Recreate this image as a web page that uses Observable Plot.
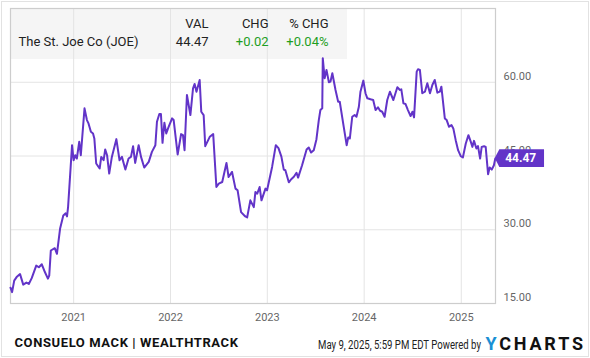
<!DOCTYPE html>
<html>
<head>
<meta charset="utf-8">
<script src="https://cdn.jsdelivr.net/npm/d3@7"></script>
<script src="https://cdn.jsdelivr.net/npm/@observablehq/plot@0.6"></script>
<style>
html, body { margin: 0; padding: 0; background: #fff; }
#wrap { position: relative; width: 590px; height: 358px; overflow: hidden; font-family: Roboto, sans-serif; }
#border { position: absolute; left: 1px; top: 1px; width: 586px; height: 354px; border: 1px solid #e2e2e2; z-index: 0; }
#legendBox { position: absolute; left: 10px; top: 8px; width: 337px; height: 51px; background: #f5f5f5; z-index: 0; }
#chart { position: absolute; left: 0; top: 0; z-index: 1; }
.t { position: absolute; z-index: 2; white-space: nowrap; font-size: 13px; line-height: 16px; color: #222; }
.r { text-align: right; width: 80px; }
.g { color: #1f9e1f; }
</style>
</head>
<body>
<div id="wrap">
  <div id="border"></div>
  <div id="legendBox"></div>
  <div id="chart"></div>
  <div id="legend"></div>
  <div id="footer"></div>
</div>
<script>
// ---- data ----
const dates = [
  "2020-05-08","2020-05-14","2020-05-22","2020-05-31","2020-06-13","2020-06-25","2020-07-07","2020-07-16","2020-07-27","2020-08-13",
  "2020-08-23","2020-09-03","2020-09-15","2020-09-26","2020-10-01","2020-10-07","2020-10-22","2020-10-30","2020-11-11","2020-11-23",
  "2020-12-02","2020-12-07","2020-12-11","2020-12-26","2021-01-01","2021-01-07","2021-01-13","2021-01-22","2021-01-28","2021-02-11",
  "2021-02-20","2021-02-26","2021-03-07","2021-03-15","2021-03-20","2021-03-27","2021-04-09","2021-04-15","2021-04-24","2021-04-30",
  "2021-05-07","2021-05-15","2021-05-25","2021-06-11","2021-06-23","2021-07-02","2021-07-15","2021-07-27","2021-08-05","2021-08-13",
  "2021-08-21","2021-09-03","2021-09-12","2021-09-24","2021-10-11","2021-10-23","2021-11-05","2021-11-11","2021-11-20","2021-11-26",
  "2021-12-02","2021-12-09","2021-12-16","2021-12-25","2022-01-07","2022-01-13","2022-01-28","2022-02-10","2022-02-17","2022-02-23",
  "2022-03-04","2022-03-17","2022-03-27","2022-04-02","2022-04-09","2022-04-21","2022-04-27","2022-05-06","2022-05-12","2022-05-29",
  "2022-06-11","2022-06-23","2022-07-02","2022-07-15","2022-07-31","2022-08-08","2022-08-21","2022-09-03","2022-09-11","2022-09-24",
  "2022-10-10","2022-10-17","2022-10-29","2022-11-11","2022-11-17","2022-11-24","2022-12-03","2022-12-10","2022-12-25","2022-12-31",
  "2023-01-19","2023-02-02","2023-02-12","2023-02-23","2023-03-04","2023-03-10","2023-03-23","2023-04-01","2023-04-11","2023-04-21",
  "2023-04-27","2023-05-12","2023-05-29","2023-06-06","2023-06-15","2023-06-25","2023-07-05","2023-07-14","2023-07-20","2023-07-27",
  "2023-07-29","2023-08-05","2023-08-12","2023-08-21","2023-08-27","2023-09-03","2023-09-15","2023-09-25","2023-10-01","2023-10-16",
  "2023-10-27","2023-11-02","2023-11-08","2023-11-17","2023-11-26","2023-12-03","2023-12-12","2023-12-18","2023-12-29","2024-01-06",
  "2024-01-13","2024-01-25","2024-02-04","2024-02-13","2024-02-22","2024-03-01","2024-03-09","2024-03-18","2024-03-28","2024-04-07",
  "2024-04-20","2024-05-05","2024-05-15","2024-05-20","2024-05-28","2024-06-05","2024-06-14","2024-06-24","2024-07-01","2024-07-07",
  "2024-07-17","2024-07-22","2024-07-29","2024-08-07","2024-08-17","2024-08-26","2024-09-05","2024-09-14","2024-09-23","2024-10-03",
  "2024-10-12","2024-10-18","2024-10-31","2024-11-07","2024-11-16","2024-11-25","2024-12-02","2024-12-11","2024-12-20","2024-12-30",
  "2025-01-07","2025-01-18","2025-01-28","2025-02-06","2025-02-12","2025-02-18","2025-02-27","2025-03-05","2025-03-13","2025-03-19",
  "2025-03-28","2025-04-03","2025-04-12","2025-04-18","2025-04-26","2025-05-04","2025-05-09"
];
const prices = [
  18.22,17.31,19.65,20.37,20.98,18.84,19.25,18.98,20.16,22.71,
  22.37,22.98,21.35,20.06,20.67,25.78,26.25,25.10,30.27,32.92,
  33.33,32.71,34.61,47.20,44.14,45.16,44.49,47.88,45.16,54.69,
  52.31,51.63,49.92,49.59,48.57,43.47,42.45,44.82,44.14,46.33,
  45.16,41.43,44.82,48.43,44.14,44.82,42.24,44.49,44.82,47.00,
  43.59,47.20,44.82,42.65,43.80,45.84,47.20,51.96,53.53,53.53,
  47.67,51.76,49.59,50.94,52.65,52.31,45.31,49.45,49.24,46.18,
  57.41,53.33,58.78,59.65,58.08,60.47,54.00,53.33,47.00,48.90,
  49.45,38.69,39.39,39.71,43.59,40.73,41.76,38.37,38.02,33.59,
  32.71,32.51,35.98,34.61,37.67,37.35,38.69,35.98,38.37,38.02,
  42.78,47.20,46.59,44.86,42.24,42.10,39.65,40.27,40.78,41.59,
  40.61,43.12,46.33,46.73,45.71,46.18,48.37,52.31,54.35,54.69,
  64.90,60.82,62.51,60.00,60.12,61.84,58.43,56.04,56.04,50.94,
  47.20,48.78,48.57,52.98,53.33,52.98,55.02,58.08,60.33,57.76,
  56.73,56.53,56.39,54.35,54.90,54.20,54.00,52.98,56.39,58.08,
  56.39,58.98,58.43,58.57,55.71,55.57,54.35,53.12,54.00,52.86,
  62.16,62.65,62.51,57.76,58.08,59.80,57.76,59.45,60.47,57.88,
  58.08,59.10,52.65,52.31,50.94,51.29,50.61,48.22,46.18,44.96,
  44.69,47.55,49.24,47.88,46.86,48.08,46.53,47.00,44.49,46.86,
  47.00,46.86,41.29,42.65,42.24,43.12,44.47
];
const yearTicks = ["2021-01-01","2022-01-01","2023-01-01","2024-01-01","2025-01-01"];
const priceTicks = [15, 30, 45, 60];
const xDomain = ["2020-05-08", "2025-05-10"];
const yDomain = [15, 75];

const legendHeaders = ["VAL", "CHG", "% CHG"];
const seriesName = "The St. Joe Co (JOE)";
const legendValues = ["44.47", "+0.02", "+0.04%"];
const footerLeft = "CONSUELO MACK | WEALTHTRACK";
const footerRight = "May 9, 2025, 5:59 PM EDT Powered by";

const lineColor = "#6234c8";
const gridColor = "#e4e4e4";
const frameColor = "#cdcdcd";

// ---- build ----
const data = dates.map((d, i) => ({date: new Date(d), price: prices[i]}));
const yearDates = yearTicks.map(d => new Date(d));
const last = data[data.length - 1];

function priceTag(index, scales) {
  const x0 = scales.x(last.date), y0 = scales.y(last.price);
  const g = d3.create("svg:g");
  g.append("path")
    .attr("d", `M${x0},${y0}L${x0 + 4.6},${y0 - 8.8}H${x0 + 49.3}V${y0 + 8.8}H${x0 + 4.6}Z`)
    .attr("fill", lineColor);
  g.append("text")
    .attr("x", x0 + 26).attr("y", y0).attr("dy", "0.36em")
    .attr("text-anchor", "middle").attr("fill", "#fff")
    .attr("font-weight", "bold").attr("font-size", 12)
    .attr("font-family", "Roboto, sans-serif")
    .text(last.price.toFixed(2));
  return g.node();
}

const hasAxisMarks = typeof Plot.axisX === "function";
const axisMarks = hasAxisMarks ? [
  Plot.axisX({ticks: yearDates, tickFormat: d3.utcFormat("%Y"), tickSize: 0, tickPadding: 10, fill: "#666", fontSize: 11, label: null}),
  Plot.axisY({anchor: "right", ticks: priceTicks, tickFormat: d => d.toFixed(2), tickSize: 0, tickPadding: 8, dy: -6, fill: "#666", fontSize: 11, label: null})
] : [];

const chart = Plot.plot({
  width: 590,
  height: 358,
  marginLeft: 10,
  marginRight: 95,
  marginTop: 8,
  marginBottom: 55,
  style: {background: "transparent", fontFamily: "Roboto, sans-serif", fontSize: "11px", color: "#666", overflow: "visible"},
  x: hasAxisMarks ? {type: "utc", domain: xDomain.map(d => new Date(d)), axis: null, label: null}
                  : {type: "utc", domain: xDomain.map(d => new Date(d)), ticks: yearDates, tickFormat: d3.utcFormat("%Y"), tickSize: 0, tickPadding: 10, label: null},
  y: hasAxisMarks ? {domain: yDomain, axis: null, label: null}
                  : {domain: yDomain, axis: "right", ticks: priceTicks, tickFormat: d => d.toFixed(2), tickSize: 0, tickPadding: 8, label: null},
  marks: [
    Plot.ruleX(yearDates, {stroke: gridColor, strokeWidth: 1}),
    Plot.ruleY(priceTicks, {stroke: gridColor, strokeWidth: 1}),
    Plot.frame({stroke: frameColor, strokeWidth: 1.2}),
    ...axisMarks,
    Plot.line(data, {x: "date", y: "price", stroke: lineColor, strokeWidth: 2, strokeLinejoin: "round"}),
    priceTag
  ]
});
document.getElementById("chart").appendChild(chart);

// ---- legend (HTML overlay) ----
const legend = document.getElementById("legend");
function addText(parent, text, left, centerY, opts = {}) {
  const el = document.createElement("div");
  el.className = "t" + (opts.right ? " r" : "") + (opts.green ? " g" : "");
  el.textContent = text;
  el.style.left = (opts.right ? left - 80 : left) + "px";
  el.style.top = (centerY - 8) + "px";
  if (opts.style) Object.assign(el.style, opts.style);
  parent.appendChild(el);
  return el;
}
const colRights = [208.5, 268.5, 328.5];
legendHeaders.forEach((h, i) => addText(legend, h, colRights[i], 24, {right: true}));
addText(legend, seriesName, 18.5, 41.5);
legendValues.forEach((v, i) => addText(legend, v, colRights[i], 41.5, {right: true, green: i > 0}));

// ---- footer ----
const footer = document.getElementById("footer");
addText(footer, footerLeft, 14.5, 342.5, {style: {fontWeight: "bold", fontSize: "13px", letterSpacing: "0.6px", color: "#111"}});
addText(footer, footerRight, 318, 345, {style: {fontSize: "12px", color: "#222", transform: "scaleX(0.80)", transformOrigin: "left center"}});
const logo = addText(footer, "", 485.5, 344, {style: {fontWeight: "bold", fontSize: "18px", letterSpacing: "2.8px", color: "#111", lineHeight: "16px"}});
const ySpan = document.createElement("span");
ySpan.textContent = "Y";
ySpan.style.color = "#1a8fd4";
logo.appendChild(ySpan);
logo.appendChild(document.createTextNode("CHARTS"));
</script>
</body>
</html>
